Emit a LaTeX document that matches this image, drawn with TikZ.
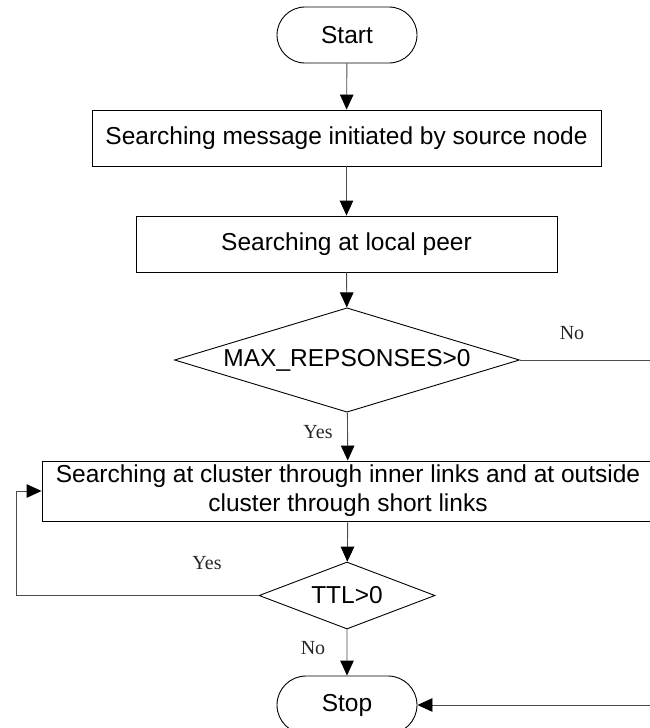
\documentclass[tikz,border=0pt]{standalone}
\usepackage{fontspec}
\setmainfont{Liberation Sans}
\newfontfamily\branchfont{Liberation Serif}
\usetikzlibrary{arrows.meta,calc,positioning,shapes.geometric,shapes.misc}
\definecolor{flowgray}{gray}{0.3}

\begin{document}
\begin{tikzpicture}[x=1pt,y=-1pt,line width=0.9pt,font=\fontsize{24.5}{29}\selectfont,
  terminal/.style={draw,rounded rectangle,minimum width=140pt,minimum height=56pt,inner sep=0pt},
  process/.style={draw,rectangle,minimum height=56pt,inner sep=0pt,align=center},
  decision/.style={draw,diamond,aspect=3,inner sep=0pt},
  flow/.style={draw=flowgray,-{Triangle[width=13.5pt,length=15pt,black]}},
  branch/.style={font=\branchfont\fontsize{20}{24}\selectfont,text=black!85}]
  \useasboundingbox (0,0) rectangle (650,728);
  % nodes
  \node[terminal](start)at(347,35){Start};
  \node[process,minimum width=509pt](msg)at(346.5,138){Searching message initiated by source node};
  \node[process,minimum width=421pt](local)at(346.5,244){Searching at local peer};
  \node[decision,minimum width=345pt,minimum height=104pt](maxr)at(347,360){MAX\_REPSONSES>0};
  \node[process,minimum width=612pt,minimum height=60pt](cluster)at(348,491)
    {Searching at cluster through inner links and at outside\\cluster through short links};
  \node[decision,minimum width=176pt,minimum height=67pt](ttl)at(347,595.5){TTL>0};
  \node[terminal,minimum height=58pt](stop)at(347,705){Stop};
  \coordinate(back)at(16,0);\coordinate(rim)at(656,0);
  % connectors
  \draw[flow](start)--(msg);
  \draw[flow](msg)--(local);
  \draw[flow](local)--(maxr);
  \draw[flow](maxr)--(cluster);
  \draw[flow](cluster)--(ttl);
  \draw[flow](ttl)--(stop);
  \draw[flow](ttl.west)--(ttl.west-|back)|-(cluster.west);
  \draw[flow](maxr.east)--(maxr.east-|rim)|-(stop.east);
  % branch labels
  \node[branch](yes1)at(318,432){Yes};
  \node[branch](no1)at(572,333){No};
  \node[branch](yes2)at(207,563){Yes};
  \node[branch](no2)at(313,648){No};
\end{tikzpicture}
\end{document}
